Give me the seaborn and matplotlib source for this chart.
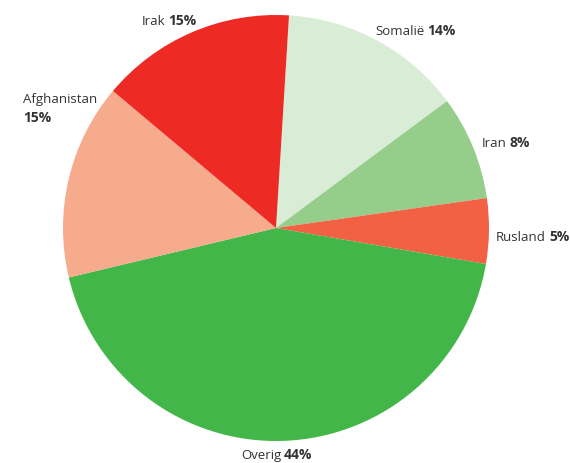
import matplotlib
matplotlib.use("Agg")
import matplotlib.pyplot as plt
import seaborn as sns

categories = ["Somalië", "Iran", "Rusland", "Overig", "Afghanistan", "Irak"]
values = [14, 8, 5, 44, 15, 15]
colors = ["#d9ecd5", "#97cd8b", "#f26144", "#43b649", "#f7ab8d", "#ee2a24"]

sns.set_theme(style="white")
plt.rcParams["font.family"] = ["Open Sans", "DejaVu Sans"]

W, H = 570, 463
fig = plt.figure(figsize=(W / 100, H / 100), dpi=100)
cx, cy, r = 276, 228, 213
ax = fig.add_axes([(cx - r) / W, (H - cy - r) / H, 2 * r / W, 2 * r / H])
ax.pie(values, colors=colors, startangle=86.5, counterclock=False,
       radius=1, wedgeprops=dict(linewidth=0))
ax.set_xlim(-1, 1)
ax.set_ylim(-1, 1)
ax.set_aspect("equal")
ax.axis("off")

# label positions (pixel, baseline) for name, and whether percent goes on a new line
label_pos = {
    "Irak": (142, 25, False),
    "Somalië": (375, 35, False),
    "Iran": (482, 147, False),
    "Rusland": (496, 241, False),
    "Overig": (241, 459, False),
    "Afghanistan": (23, 103, True),
}
txtcolor = "#333333"
fs = 9.5
fig.canvas.draw()
renderer = fig.canvas.get_renderer()
for name, val in zip(categories, values):
    px, py, newline = label_pos[name]
    t = fig.text(px / W, 1 - py / H, name, fontsize=fs, color=txtcolor,
                 ha="left", va="baseline")
    if newline:
        fig.text(px / W, 1 - (py + 19) / H, f"{val}%", fontsize=fs + 0.5,
                 color=txtcolor, fontweight="bold", ha="left", va="baseline")
    else:
        bb = t.get_window_extent(renderer=renderer)
        fig.text((bb.x1 + 3) / W, 1 - py / H, f"{val}%", fontsize=fs + 0.5,
                 color=txtcolor, fontweight="bold", ha="left", va="baseline")

fig.savefig("out.png", dpi=100)
